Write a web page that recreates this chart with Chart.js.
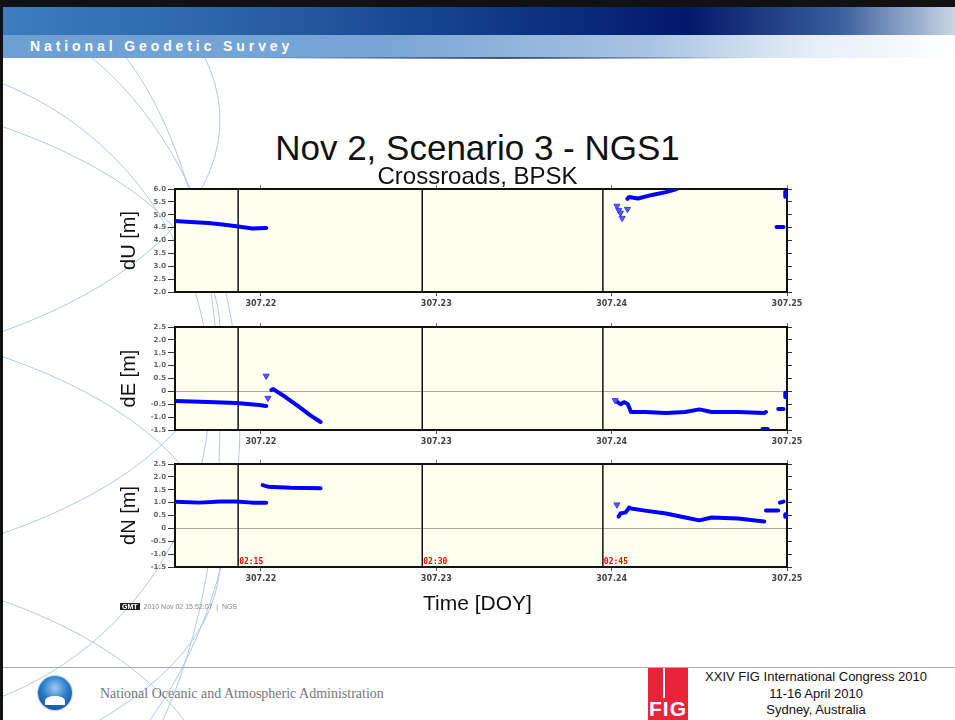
<!DOCTYPE html>
<html>
<head>
<meta charset="utf-8">
<script src="https://cdn.jsdelivr.net/npm/chart.js@4.4.1/dist/chart.umd.min.js"></script>
<style>
  body { margin: 0; background: #fff; }
  #slide { position: relative; width: 955px; height: 720px; overflow: hidden; background: #fff; font-family: "Liberation Sans", Arial, sans-serif; }
  .abs { position: absolute; }
  #topbar { left: 0; top: 0; width: 955px; height: 7px; background: #111; }
  #leftbar { left: 0; top: 0; width: 3px; height: 720px; background: #111; }
  #band1 { left: 3px; top: 7px; width: 952px; height: 28px;
    background: linear-gradient(90deg, #3d7dbf 0%, #2a62a6 25%, #123c8a 50%, #03186a 72%, #3a5f9e 88%, #c9d6e6 100%); }
  #band2 { left: 3px; top: 35px; width: 952px; height: 23px;
    background: linear-gradient(90deg, #6e9fd2 0%, #79a6d6 40%, #a9c4e2 68%, #e6eef7 85%, #ffffff 100%); }
  #band2line { left: 250px; top: 57px; width: 500px; height: 2px;
    background: linear-gradient(90deg, rgba(30,50,120,0), rgba(30,50,120,0.8) 50%, rgba(30,50,120,0)); }
  #ngs { left: 30px; top: 38px; color: #fff; font-size: 14px; font-weight: bold; letter-spacing: 3.9px; }
  #title { left: 0; width: 955px; top: 128px; text-align: center; font-size: 35px; color: #111; }
  #subtitle { left: 0; width: 955px; top: 162px; text-align: center; font-size: 24px; color: #111; z-index: 5; }
  #xtitle { left: 0; width: 955px; top: 591px; text-align: center; font-size: 21px; color: #111; }
  canvas { position: absolute; }
  #footline { left: 3px; top: 667px; width: 952px; height: 1px; background: #aaa; }
  #noaa { left: 38px; top: 676px; width: 34px; height: 34px; border-radius: 50%;
    background: radial-gradient(circle at 50% 35%, #9ecbf0 0%, #2a7cc8 45%, #0b3f8f 100%); box-shadow: 0 0 0 1px #c8d6e8; }
  #noaabird { left: 45px; top: 696px; width: 20px; height: 9px; background: #fff; border-radius: 50% 50% 0 0; }
  #noaatext { left: 100px; top: 686px; font-family: "Liberation Serif", "DejaVu Serif", serif; font-size: 14px; color: #777; }
  #fig { left: 648px; top: 668px; width: 40px; height: 52px; background: #e8243a; }
  #figtxt { left: 648px; top: 697px; width: 40px; text-align: center; color: #fff; font-size: 21px; font-weight: bold; letter-spacing: 1px; }
  #figbar { left: 663px; top: 668px; width: 2px; height: 30px; background: #fff; }
  #congress { left: 698px; top: 669px; width: 236px; text-align: center; font-size: 13px; line-height: 16.5px; color: #111; }
  #gmt { left: 120px; top: 603px; font-size: 7px; color: #888; }
  #gmt b { background: #222; color: #fff; padding: 0 2px; margin-right: 4px; }
</style>
</head>
<body>
<div id="slide">
  <svg class="abs" style="left:0;top:0" width="955" height="720">
    <g fill="none" stroke="#b3c9e2" stroke-width="1">
      <ellipse cx="-120" cy="390" rx="330" ry="330"/>
      <ellipse cx="-60" cy="420" rx="300" ry="420"/>
      <ellipse cx="30" cy="420" rx="190" ry="420"/>
      <ellipse cx="-300" cy="120" rx="520" ry="260"/>
      <ellipse cx="-300" cy="330" rx="520" ry="250"/>
      <ellipse cx="-300" cy="560" rx="520" ry="250"/>
      <ellipse cx="-250" cy="820" rx="470" ry="260"/>
    </g>
  </svg>
  <div id="topbar" class="abs"></div>
  <div id="band1" class="abs"></div>
  <div id="band2" class="abs"></div>
  <div id="band2line" class="abs"></div>
  <div id="ngs" class="abs">National Geodetic Survey</div>
  <div id="leftbar" class="abs"></div>

  <div id="title" class="abs">Nov 2, Scenario 3 - NGS1</div>
  <div id="subtitle" class="abs">Crossroads, BPSK</div>

  <canvas id="duChart" width="693" height="137" style="left:117px; top:180px;"></canvas>
  <canvas id="deChart" width="693" height="137" style="left:117px; top:318px;"></canvas>
  <canvas id="dnChart" width="693" height="137" style="left:117px; top:455px;"></canvas>

  <div id="xtitle" class="abs">Time [DOY]</div>
  <div id="gmt" class="abs"><b>GMT</b>2010 Nov 02 15:52:07 &nbsp;|&nbsp; NGS</div>

  <div id="footline" class="abs"></div>
  <div id="noaa" class="abs"></div>
  <div id="noaabird" class="abs"></div>
  <div id="noaatext" class="abs">National Oceanic and Atmospheric Administration</div>
  <div id="fig" class="abs"></div>
  <div id="figbar" class="abs"></div>
  <div id="figtxt" class="abs">FIG</div>
  <div id="congress" class="abs">XXIV FIG International Congress 2010<br>11-16 April 2010<br>Sydney, Australia</div>
</div>

<script>
// x axis (day of year)
var xMin = 307.2151;
var xMax = 307.25;
var xTicks = [307.22, 307.23, 307.24, 307.25];

// event markers (vertical lines) and their clock labels
var markerDoy = [307.2187, 307.2292, 307.2395];
var markerLabels = ["02:15", "02:30", "02:45"];

// dU [m]  (null = gap)
var duDoy = [307.2150, 307.2160, 307.2170, 307.2178, 307.2186, 307.2195, 307.2203,
             307.2300,
             307.2409, 307.2410, 307.2415, 307.2423, 307.2431, 307.2437,
             307.2460,
             307.2494, 307.2498,
             307.2498,
             307.2499, 307.2499];
var duVal = [4.76, 4.72, 4.68, 4.62, 4.55, 4.47, 4.49,
             null,
             5.62, 5.69, 5.63, 5.77, 5.88, 6.0,
             null,
             4.52, 4.52,
             null,
             5.90, 5.70];
var duFlagDoy = [307.2403, 307.2404, 307.2405, 307.2406, 307.2409];
var duFlagVal = [5.34, 5.18, 5.07, 4.87, 5.22];

// dE [m]
var deDoy = [307.2150, 307.2170, 307.2186, 307.2199, 307.2203,
             307.2205,
             307.2206, 307.2207, 307.2214, 307.2222, 307.2228, 307.2234,
             307.2300,
             307.2403, 307.2405, 307.2407, 307.2409, 307.2410, 307.2411, 307.2419, 307.2431,
             307.2442, 307.2450, 307.2457, 307.2472, 307.2487, 307.2488,
             307.2488,
             307.2486, 307.2489,
             307.2490,
             307.2495, 307.2498,
             307.2498,
             307.2499, 307.2499];
var deVal = [-0.37, -0.41, -0.45, -0.53, -0.57,
             null,
             0.05, 0.09, -0.22, -0.61, -0.92, -1.19,
             null,
             -0.40, -0.50, -0.42, -0.48, -0.62, -0.80, -0.80, -0.84,
             -0.80, -0.70, -0.80, -0.80, -0.84, -0.80,
             null,
             -1.46, -1.46,
             null,
             -0.68, -0.68,
             null,
             -0.05, -0.22];
var deFlagDoy = [307.2203, 307.2204, 307.2402];
var deFlagVal = [0.60, -0.26, -0.35];

// dN [m]
var dnDoy = [307.2150, 307.2165, 307.2177, 307.2186, 307.2195, 307.2203,
             307.2203,
             307.2201, 307.2204, 307.2217, 307.2234,
             307.2300,
             307.2404, 307.2405, 307.2408, 307.2410, 307.2411, 307.2419, 307.2431,
             307.2442, 307.2450, 307.2457, 307.2472, 307.2487,
             307.2487,
             307.2488, 307.2495,
             307.2495,
             307.2496, 307.2498,
             307.2498,
             307.2499, 307.2499];
var dnVal = [1.04, 1.00, 1.04, 1.04, 1.00, 1.00,
             null,
             1.68, 1.62, 1.58, 1.56,
             null,
             0.46, 0.58, 0.62, 0.81, 0.77, 0.69, 0.58,
             0.42, 0.31, 0.42, 0.38, 0.27,
             null,
             0.69, 0.69,
             null,
             1.00, 1.04,
             null,
             0.55, 0.45];
var dnFlagDoy = [307.2403];
var dnFlagVal = [0.92];

// y ranges
var duRange = [2, 6];
var neRange = [-1.5, 2.5];

function pts(xs, ys) {
    var out = [];
    for (var i = 0; i < xs.length; i++) out.push({x: xs[i], y: ys[i]});
    return out;
}

var plotBg = {
    id: 'plotBg',
    beforeDraw: function(chart) {
        var a = chart.chartArea, c = chart.ctx;
        c.save();
        c.fillStyle = '#fffff0';
        c.fillRect(a.left, a.top, a.right - a.left, a.bottom - a.top);
        c.restore();
    }
};

var markerText = {
    id: 'markerText',
    afterDatasetsDraw: function(chart, args, opts) {
        if (!opts.show) return;
        var c = chart.ctx, xs = chart.scales.x, a = chart.chartArea;
        c.save();
        c.fillStyle = '#ff0000';
        c.font = 'bold 8px "DejaVu Sans Mono", monospace';
        c.textBaseline = 'bottom';
        for (var i = 0; i < markerDoy.length; i++) {
            c.fillText(markerLabels[i], xs.getPixelForValue(markerDoy[i]) + 1, a.bottom - 1);
        }
        c.restore();
    }
};

function makePanel(id, label, doy, val, flagDoy, flagVal, range, step, showMarkers) {
    var datasets = [];
    for (var i = 0; i < markerDoy.length; i++) {
        datasets.push({
            data: [{x: markerDoy[i], y: range[0]}, {x: markerDoy[i], y: range[1]}],
            borderColor: '#111', borderWidth: 1.5, pointRadius: 0, order: 3
        });
    }
    datasets.push({
        data: pts(doy, val), borderColor: '#0000ff', borderWidth: 4,
        pointRadius: 0, spanGaps: false, borderCapStyle: 'round', borderJoinStyle: 'round', order: 1
    });
    datasets.push({
        data: pts(flagDoy, flagVal), showLine: false, pointStyle: 'triangle', rotation: 180,
        pointRadius: 3.5, backgroundColor: '#5a5aff', borderColor: '#3a3aff', borderWidth: 1, order: 0
    });

    var tickFont = {size: 8, family: '"DejaVu Sans", sans-serif', weight: 'bold'};
    return new Chart(document.getElementById(id), {
        type: 'line',
        data: {datasets: datasets},
        plugins: [plotBg, markerText],
        options: {
            responsive: false,
            animation: false,
            devicePixelRatio: 1,
            layout: {padding: 0},
            plugins: {
                legend: {display: false},
                tooltip: {enabled: false},
                markerText: {show: showMarkers}
            },
            scales: {
                x: {
                    type: 'linear', position: 'bottom', min: xMin, max: xMax,
                    afterBuildTicks: function(s) { s.ticks = xTicks.map(function(v) { return {value: v}; }); },
                    afterFit: function(s) { s.height = 25; },
                    ticks: {color: '#444', font: tickFont, padding: 3, maxRotation: 0,
                            callback: function(v) { return v.toFixed(2); }},
                    grid: {drawOnChartArea: false, tickLength: 4, tickColor: '#555'},
                    border: {display: true, color: '#111', width: 2}
                },
                x2: {
                    type: 'linear', position: 'top', min: xMin, max: xMax,
                    afterBuildTicks: function(s) { s.ticks = xTicks.map(function(v) { return {value: v}; }); },
                    afterFit: function(s) { s.height = 9; },
                    ticks: {display: false},
                    grid: {drawOnChartArea: false, tickLength: 4, tickColor: '#777'},
                    border: {display: true, color: '#111', width: 2}
                },
                y: {
                    position: 'left', min: range[0], max: range[1],
                    afterFit: function(s) { s.width = 58; },
                    ticks: {stepSize: step, color: '#666', padding: 2,
                            font: {size: 7, family: '"DejaVu Sans", sans-serif', weight: 'bold'}},
                    grid: {
                        color: function(ctx) { return ctx.tick && ctx.tick.value === 0 ? '#a8a890' : 'rgba(0,0,0,0)'; },
                        tickColor: '#333', tickLength: 7, lineWidth: 1
                    },
                    border: {display: true, color: '#111', width: 2},
                    title: {display: true, text: label, color: '#111',
                            font: {size: 20, family: '"Liberation Sans", Arial, sans-serif'}, padding: {top: 0, bottom: 0}}
                },
                y2: {
                    position: 'right', min: range[0], max: range[1],
                    afterFit: function(s) { s.width = 23; },
                    ticks: {display: false, stepSize: step},
                    grid: {drawOnChartArea: false, tickLength: 5, tickColor: '#333'},
                    border: {display: true, color: '#111', width: 2}
                }
            }
        }
    });
}

makePanel('duChart', 'dU [m]', duDoy, duVal, duFlagDoy, duFlagVal, duRange, 0.5, false);
makePanel('deChart', 'dE [m]', deDoy, deVal, deFlagDoy, deFlagVal, neRange, 0.5, false);
makePanel('dnChart', 'dN [m]', dnDoy, dnVal, dnFlagDoy, dnFlagVal, neRange, 0.5, true);
</script>
</body>
</html>
